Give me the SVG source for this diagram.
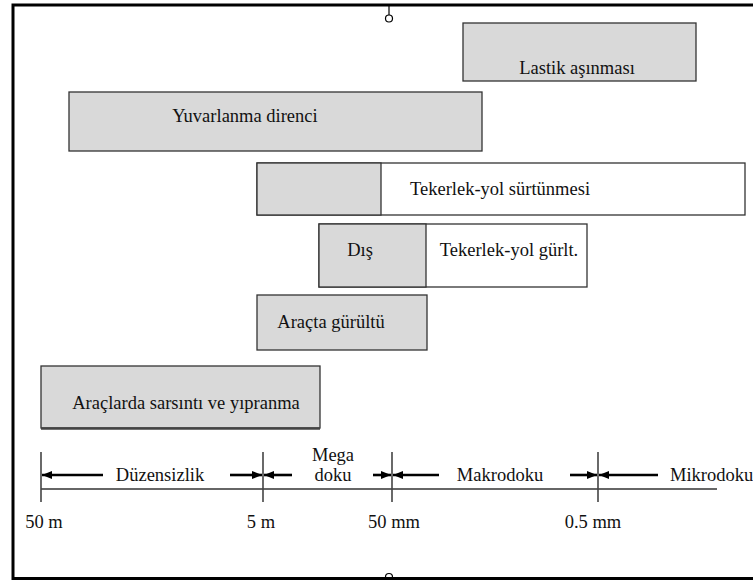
<svg xmlns="http://www.w3.org/2000/svg" width="753" height="580" viewBox="0 0 753 580">
<defs>
<style>
.bx{fill:#d9d9d9;stroke:#333;stroke-width:1.3}
.wb{fill:#fff;stroke:#333;stroke-width:1.3}
.t{font-family:'Liberation Serif','Times New Roman','DejaVu Serif',serif;font-size:18.5px;fill:#111}
.tk{stroke:#444;stroke-width:1.6}
.ar{stroke:#000;stroke-width:2.6;fill:none}
</style>
<marker id="ah" markerWidth="10" markerHeight="8" refX="10" refY="4" orient="auto" markerUnits="userSpaceOnUse">
<path d="M0,0 L10,4 L0,8 Z" fill="#000"/>
</marker>
</defs>
<rect width="753" height="580" fill="#fff"/>
<g id="frame">
<path d="M13,580 V5 H753" fill="none" stroke="#000" stroke-width="3"/>
<line x1="389" y1="5" x2="389" y2="15" stroke="#000" stroke-width="1.2"/>
<circle cx="389" cy="18.5" r="3.5" fill="#fff" stroke="#000" stroke-width="1.2"/>
<circle cx="389" cy="577" r="3.5" fill="#fff" stroke="#000" stroke-width="1.2"/>
<line x1="13" y1="578.5" x2="753" y2="578.5" stroke="#000" stroke-width="3"/>
</g>
<g font-family="'Liberation Serif','Times New Roman','DejaVu Serif',serif">
<g id="lastik">
<rect class="bx" x="463" y="23" width="233" height="58"/>
<text class="t" x="577" y="74" text-anchor="middle">Lastik aşınması</text>
</g>
<g id="yuvarlanma">
<rect class="bx" x="69" y="92" width="413" height="59"/>
<text class="t" x="245" y="122" text-anchor="middle">Yuvarlanma direnci</text>
</g>
<g id="surtunme">
<rect class="wb" x="257" y="163" width="488" height="52"/>
<rect class="bx" x="257" y="163" width="124" height="52"/>
<text class="t" x="410" y="195">Tekerlek-yol sürtünmesi</text>
</g>
<g id="gurultu-dis">
<rect class="wb" x="319" y="224" width="268" height="63"/>
<rect class="bx" x="319" y="224" width="107" height="63"/>
<text class="t" x="360" y="256" text-anchor="middle">Dış</text>
<text class="t" x="509" y="256" text-anchor="middle">Tekerlek-yol gürlt.</text>
</g>
<g id="aracta">
<rect class="bx" x="257" y="295" width="170" height="55"/>
<text class="t" x="331" y="328" text-anchor="middle">Araçta gürültü</text>
</g>
<g id="araclarda">
<rect class="bx" x="41" y="366" width="279" height="62"/>
<line x1="41" y1="428.5" x2="320" y2="428.5" stroke="#444" stroke-width="2.5"/>
<text class="t" x="186" y="409" text-anchor="middle">Araçlarda sarsıntı ve yıpranma</text>
</g>
<g id="scale">
<line x1="41" y1="489" x2="717" y2="489" stroke="#333" stroke-width="1.3"/>
<line class="tk" x1="41" y1="452" x2="41" y2="502"/>
<line class="tk" x1="263" y1="452" x2="263" y2="502"/>
<line class="tk" x1="392" y1="452" x2="392" y2="502"/>
<line class="tk" x1="598" y1="452" x2="598" y2="502"/>
<text class="t" x="160" y="481" text-anchor="middle">Düzensizlik</text>
<text class="t" x="333" y="461" text-anchor="middle">Mega</text>
<text class="t" x="333" y="481" text-anchor="middle">doku</text>
<text class="t" x="500" y="481" text-anchor="middle">Makrodoku</text>
<text class="t" x="670" y="481">Mikrodoku</text>
<text class="t" x="44" y="528" text-anchor="middle">50 m</text>
<text class="t" x="261" y="528" text-anchor="middle">5 m</text>
<text class="t" x="394" y="528" text-anchor="middle">50 mm</text>
<text class="t" x="593" y="528" text-anchor="middle">0.5 mm</text>
</g>
</g>
<g id="connectors">
<line class="ar" x1="103" y1="475" x2="42" y2="475" marker-end="url(#ah)"/>
<line class="ar" x1="230" y1="475" x2="262" y2="475" marker-end="url(#ah)"/>
<line class="ar" x1="292" y1="475" x2="264" y2="475" marker-end="url(#ah)"/>
<line class="ar" x1="373" y1="475" x2="391" y2="475" marker-end="url(#ah)"/>
<line class="ar" x1="439" y1="475" x2="393" y2="475" marker-end="url(#ah)"/>
<line class="ar" x1="570" y1="475" x2="597" y2="475" marker-end="url(#ah)"/>
<line class="ar" x1="658" y1="475" x2="599" y2="475" marker-end="url(#ah)"/>
</g>
</svg>
